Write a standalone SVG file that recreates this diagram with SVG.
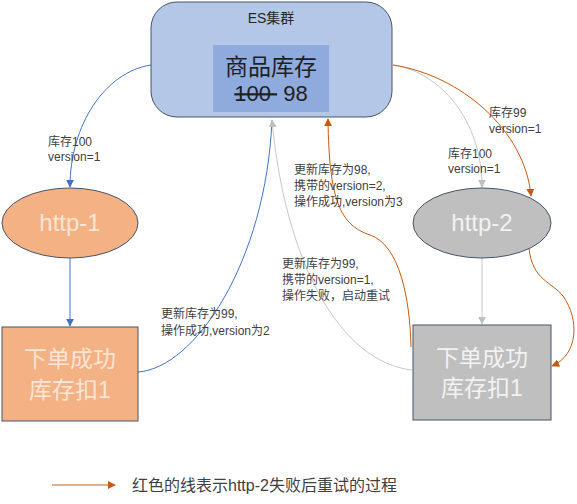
<svg xmlns="http://www.w3.org/2000/svg" width="577" height="504" viewBox="0 0 577 504">
<style>
text{font-family:"Liberation Sans","Noto Sans CJK SC",sans-serif;}
.lbl{font-size:12px;fill:#404040;}
.node{stroke:#44546a;stroke-width:1;}
.big{font-size:23px;}
.blue{fill:none;stroke:#4472c4;stroke-width:1;}
.grey{fill:none;stroke:#c8c8c8;stroke-width:1;}
.orange{fill:none;stroke:#c55a11;stroke-width:1;}
</style>
<defs>
<marker id="ab" viewBox="0 0 10 10" refX="9" refY="5" markerWidth="8" markerHeight="8" markerUnits="userSpaceOnUse" orient="auto"><path d="M0,0L10,5L0,10z" fill="#4472c4"/></marker>
<marker id="ag" viewBox="0 0 10 10" refX="9" refY="5" markerWidth="8" markerHeight="8" markerUnits="userSpaceOnUse" orient="auto"><path d="M0,0L10,5L0,10z" fill="#c0c0c0"/></marker>
<marker id="ao" viewBox="0 0 10 10" refX="9" refY="5" markerWidth="8" markerHeight="8" markerUnits="userSpaceOnUse" orient="auto"><path d="M0,0L10,5L0,10z" fill="#c55a11"/></marker>
</defs>
<rect width="577" height="504" fill="#ffffff"/>

<g id="connectors">
<path class="blue" d="M151,65 C105,72 70,125 70,187" marker-end="url(#ab)"/>
<path class="blue" d="M70,258 L70,326" marker-end="url(#ab)"/>
<path class="blue" d="M138,372 C195,368 266,262 272,120"/>
<path class="grey" d="M412,370 C340,362 285,262 272,120" marker-end="url(#ag)"/>
<path class="grey" d="M393,65 C440,72 482,120 482,187" marker-end="url(#ag)"/>
<path class="orange" d="M393,65 C460,75 525,130 531,196" marker-end="url(#ao)"/>
<path class="grey" d="M482,258 L482,324" marker-end="url(#ag)"/>
<path class="orange" d="M529,248 C532,280 552,282 563,296 C580,320 578,355 552,366" marker-end="url(#ao)"/>
<path class="orange" d="M411,347 C410,300 400,245 370,235 C340,225 329,200 328,119" marker-end="url(#ao)"/>
</g>

<g id="es-cluster">
<rect class="node" x="151" y="2" width="241" height="115" rx="26" fill="#b4c7e7"/>
<text x="271" y="23" font-size="14" fill="#262626" text-anchor="middle">ES集群</text>
<rect x="213" y="45" width="116" height="67" fill="#8faadc"/>
<text x="271" y="75" font-size="23" fill="#1f1f1f" text-anchor="middle">商品库存</text>
<text x="271" y="101" font-size="22" fill="#1f1f1f" text-anchor="middle" xml:space="preserve"><tspan text-decoration="line-through">100 </tspan> 98</text>
</g>

<g id="http-1">
<ellipse class="node" cx="70" cy="223" rx="68" ry="35" fill="#f4b183"/>
<text x="70" y="231" font-size="24" fill="#fbe5d6" text-anchor="middle">http-1</text>
</g>

<g id="http-2">
<ellipse class="node" cx="482" cy="223" rx="69" ry="35" fill="#bfbfbf"/>
<text x="482" y="231" font-size="24" fill="#f2f2f2" text-anchor="middle">http-2</text>
</g>

<g id="order-1">
<rect class="node" x="2" y="327" width="136" height="94" fill="#f4b183"/>
<text class="big" x="70" y="367" fill="#fbe5d6" text-anchor="middle">下单成功</text>
<text class="big" x="70" y="398" fill="#fbe5d6" text-anchor="middle">库存扣1</text>
</g>

<g id="order-2">
<rect class="node" x="413" y="325" width="138" height="95" fill="#bfbfbf"/>
<text class="big" x="482" y="366" fill="#f2f2f2" text-anchor="middle">下单成功</text>
<text class="big" x="482" y="396" fill="#f2f2f2" text-anchor="middle">库存扣1</text>
</g>

<g id="labels">
<text class="lbl" x="48" y="146">库存100</text>
<text class="lbl" x="48" y="161">version=1</text>
<text class="lbl" x="448" y="158">库存100</text>
<text class="lbl" x="448" y="173">version=1</text>
<text class="lbl" x="489" y="117">库存99</text>
<text class="lbl" x="489" y="133">version=1</text>
<text class="lbl" x="294" y="174">更新库存为98,</text>
<text class="lbl" x="294" y="190">携带的version=2,</text>
<text class="lbl" x="294" y="206">操作成功,version为3</text>
<text class="lbl" x="282" y="268">更新库存为99,</text>
<text class="lbl" x="282" y="284">携带的version=1,</text>
<text class="lbl" x="282" y="300">操作失败，启动重试</text>
<text class="lbl" x="161" y="318">更新库存为99,</text>
<text class="lbl" x="161" y="335">操作成功,version为2</text>
</g>

<g id="legend">
<path class="orange" d="M52,485 L115,485" marker-end="url(#ao)"/>
<text x="132" y="491" font-size="16" fill="#404040">红色的线表示http-2失败后重试的过程</text>
</g>
</svg>
